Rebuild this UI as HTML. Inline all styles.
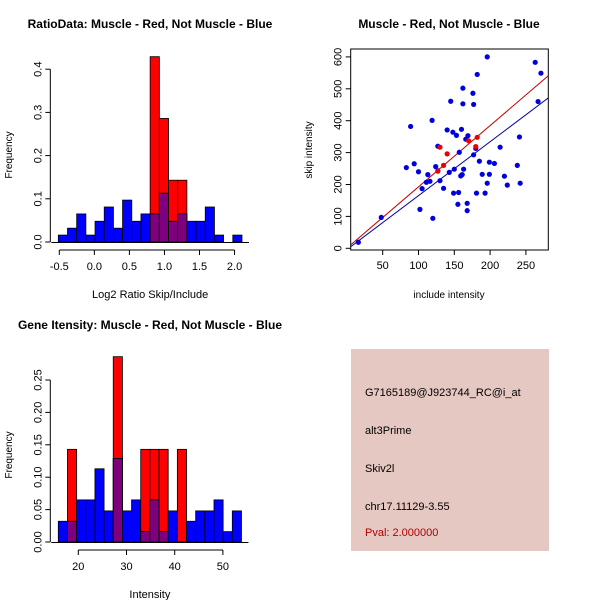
<!DOCTYPE html>
<html><head><meta charset="utf-8"><style>
body{margin:0;background:#fff;}
svg{display:block;font-family:"Liberation Sans",sans-serif;}
</style></head><body>
<svg id="chart" width="600" height="600">
<rect width="600" height="600" fill="#fff"/>
<g id="g1"></g>
<g id="g2"></g>
<g id="g3"></g>
<g>
<rect x="351" y="349" width="198" height="202" fill="#e5c8c2"/>
<text x="365" y="396" font-size="11">G7165189@J923744_RC@i_at</text>
<text x="365" y="434" font-size="11">alt3Prime</text>
<text x="365" y="472" font-size="11">Skiv2l</text>
<text x="365" y="510" font-size="11">chr17.11129-3.55</text>
<text x="365" y="536" font-size="11" fill="#b00000">Pval: 2.000000</text>
</g>
</svg>
<script>
const NS="http://www.w3.org/2000/svg";
// ---- data ----
const ratioBreakStart=-0.514, ratioBinWidth=0.131;
const ratioBlue=[0.016,0.032,0.065,0.016,0.048,0.081,0.032,0.097,0.048,0.065,0.065,0.113,0.048,0.065,0.048,0.048,0.081,0.016,0,0.016];
const ratioRed=[0,0,0,0,0,0,0,0,0,0,0.429,0.286,0.143,0.143,0,0,0,0,0,0];
const ratioXTicks=[-0.5,0.0,0.5,1.0,1.5,2.0];
const ratioXLabels=["-0.5","0.0","0.5","1.0","1.5","2.0"];
const ratioYTicks=[0,0.1,0.2,0.3,0.4];
const ratioYLabels=["0.0","0.1","0.2","0.3","0.4"];

const intBreakStart=15.85, intBinWidth=1.9;
const intBlue=[0.032,0.032,0.065,0.065,0.113,0.048,0.129,0.048,0.065,0.016,0.065,0.016,0.048,0,0.032,0.048,0.048,0.065,0.016,0.048];
const intRed=[0,0.143,0,0,0,0,0.286,0,0,0.143,0.143,0.143,0,0.143,0,0,0,0,0,0];
const intXTicks=[20,30,40,50];
const intYTicks=[0,0.05,0.10,0.15,0.20,0.25];
const intYLabels=["0.00","0.05","0.10","0.15","0.20","0.25"];

const blueX=[16,48,83,94,89,100,102,105,119,120,113,111,116,124,127,130,135,127,140,143,145,148,149,150,153,155,156,157,159,161,160,162,162,163,166,168,168,169,176,177,177,180,181,182,185,189,193,196,196,199,199,206,214,220,224,238,241,242,263,267,271];
const blueY=[19,97,253,265,382,240,122,187,401,94,231,207,210,256,320,212,188,243,371,238,461,364,173,248,354,138,175,301,227,231,373,453,502,248,342,118,141,353,486,451,293,313,173,545,273,232,173,600,204,232,270,266,317,226,198,260,349,204,583,460,549];
const redX=[130,140,135,127,170,182,180];
const redY=[317,296,260,242,337,348,319];
const redFit=[0.7,1.92];   // intercept, slope
const blueFit=[-4,1.69];
const scXTicks=[50,100,150,200,250];
const scYTicks=[0,100,200,300,400,500,600];

function el(p,tag,attrs){const e=document.createElementNS(NS,tag);for(const k in attrs)e.setAttribute(k,attrs[k]);p.appendChild(e);return e;}
function txt(p,x,y,s,opt){const t=el(p,"text",Object.assign({x:x,y:y,"font-size":11,"text-anchor":"middle"},opt||{}));t.textContent=s;return t;}

function histogram(g,o){
  const sx=v=>o.x0px+(v-o.x0)*o.pxPerX, sy=v=>o.y0px-v*o.pxPerY;
  const n=o.blue.length;
  for(let i=0;i<n;i++){
    const a=o.start+i*o.bw,b=a+o.bw,bl=o.blue[i],rd=o.red[i];
    const x1=sx(a),x2=sx(b);
    if(bl>0){const r=el(g,"rect",{x:x1,y:sy(bl),width:x2-x1,height:sy(0)-sy(bl),fill:"#0000ff",stroke:"#000","stroke-width":0.8});
      
      }
    if(rd>0){const r=el(g,"rect",{x:x1,y:sy(rd),width:x2-x1,height:sy(0)-sy(rd),fill:"#ff0000",stroke:"#000","stroke-width":0.8});
      
      
      const m=Math.min(bl,rd);
      if(m>0){const p=el(g,"rect",{x:x1,y:sy(m),width:x2-x1,height:sy(0)-sy(m),fill:"#7f007f",stroke:"#000","stroke-width":0.8});
        
        }}
  }
  el(g,"line",{x1:sx(o.start)-7,x2:sx(o.start+n*o.bw)+7,y1:sy(0)+0.5,y2:sy(0)+0.5,stroke:"#000"});
  // x axis
  const xa=el(g,"g",{});
  const yb=o.y0px+8;
  el(xa,"line",{x1:sx(o.xt[0]),x2:sx(o.xt[o.xt.length-1]),y1:yb,y2:yb,stroke:"#000"});
  o.xt.forEach((v,i)=>{el(xa,"line",{x1:sx(v),x2:sx(v),y1:yb,y2:yb+5,stroke:"#000"});txt(xa,sx(v),yb+20,o.xl[i]);});
  const ya=el(g,"g",{});
  const xl=o.x0px+(o.start-o.x0)*o.pxPerX-8;
  el(ya,"line",{x1:xl,x2:xl,y1:sy(o.yt[0]),y2:sy(o.yt[o.yt.length-1]),stroke:"#000"});
  o.yt.forEach((v,i)=>{el(ya,"line",{x1:xl-5,x2:xl,y1:sy(v),y2:sy(v),stroke:"#000"});
    txt(ya,0,0,o.yl[i],{transform:`translate(${xl-9},${sy(v)}) rotate(-90)`});});
  const t=txt(g,o.titleX,o.titleY,o.title,{"font-weight":"bold","font-size":12});
  const xlab=txt(g,o.x0px+(o.start+n*o.bw/2-o.x0)*o.pxPerX,o.y0px+56,o.xlab);
  const ylab=txt(g,0,0,"Frequency",{"font-size":10,transform:`translate(12,${o.y0px-87}) rotate(-90)`});
}

histogram(document.getElementById("g1"),{x0:-0.5,x0px:59.3,pxPerX:70.1,y0px:242,pxPerY:432,start:ratioBreakStart,bw:ratioBinWidth,
  blue:ratioBlue,red:ratioRed,xt:ratioXTicks,xl:ratioXLabels,yt:ratioYTicks,yl:ratioYLabels,
  title:"RatioData: Muscle - Red, Not Muscle - Blue",titleX:150,titleY:28,xlab:"Log2 Ratio Skip/Include"});
histogram(document.getElementById("g3"),{x0:20,x0px:78.3,pxPerX:4.82,y0px:542,pxPerY:648,start:intBreakStart,bw:intBinWidth,
  blue:intBlue,red:intRed,xt:intXTicks,xl:intXTicks.map(String),yt:intYTicks,yl:intYLabels,
  title:"Gene Itensity: Muscle - Red, Not Muscle - Blue",titleX:150,titleY:329,xlab:"Intensity"});

// scatter
(function(){
  const g=document.getElementById("g2");
  const sx=v=>382.7+(v-50)*0.716, sy=v=>248.3-v*0.319;
  const L=350.7,R=548.3,T=49,B=250;
  const box=el(g,"rect",{x:L,y:T,width:R-L,height:B-T,fill:"none",stroke:"#000"});
  
  const cp=el(g,"clipPath",{id:"cp"});el(cp,"rect",{x:L,y:T,width:R-L,height:B-T});
  const xd0=(L-382.7)/0.716+50,xd1=(R-382.7)/0.716+50;
  [[blueFit,"#0000a0","blue-fit-line"],[redFit,"#c00000","red-fit-line"]].forEach(f=>{
    const l=el(g,"line",{x1:sx(xd0),y1:sy(f[0][0]+f[0][1]*xd0),x2:sx(xd1),y2:sy(f[0][0]+f[0][1]*xd1),stroke:f[1],"clip-path":"url(#cp)"});
    });
  blueX.forEach((v,i)=>{const c=el(g,"circle",{cx:sx(v),cy:sy(blueY[i]),r:2.6,fill:"#0000dd"});
    });
  redX.forEach((v,i)=>{const c=el(g,"circle",{cx:sx(v),cy:sy(redY[i]),r:2.6,fill:"#ee0000"});
    });
  const xa=el(g,"g",{});
  scXTicks.forEach(v=>{el(xa,"line",{x1:sx(v),x2:sx(v),y1:B,y2:B+5,stroke:"#000"});txt(xa,sx(v),B+19,String(v));});
  const ya=el(g,"g",{});
  scYTicks.forEach(v=>{el(ya,"line",{x1:L-5,x2:L,y1:sy(v),y2:sy(v),stroke:"#000"});
    txt(ya,0,0,String(v),{transform:`translate(${L-9},${sy(v)}) rotate(-90)`});});
  const t=txt(g,449,28,"Muscle - Red, Not Muscle - Blue",{"font-weight":"bold","font-size":12});
  const xl=txt(g,449,298,"include intensity",{"font-size":10});
  const yl=txt(g,0,0,"skip intensity",{"font-size":10,transform:"translate(312,150) rotate(-90)"});
})();
</script>
</body></html>
